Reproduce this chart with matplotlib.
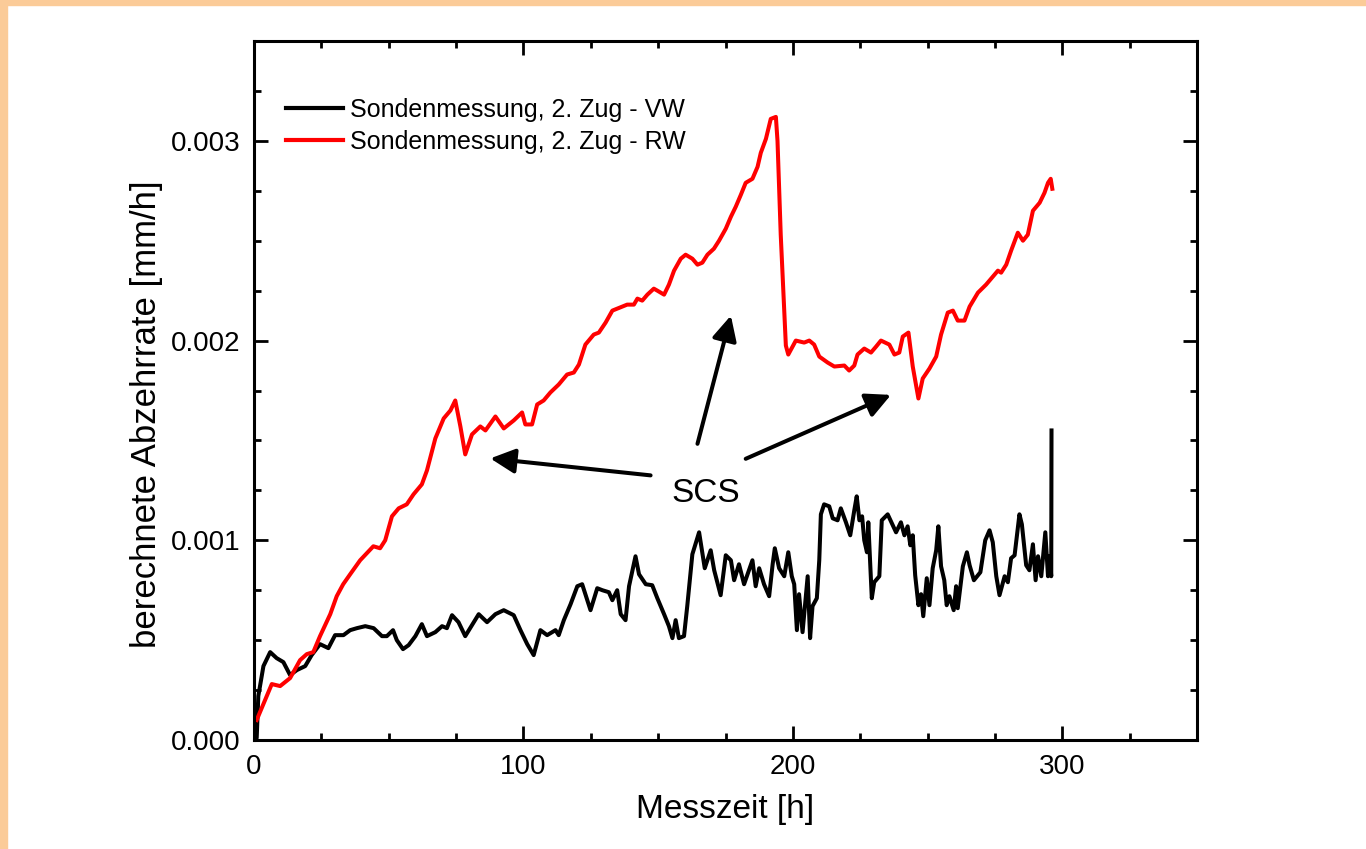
import matplotlib
matplotlib.use("Agg")
import matplotlib.pyplot as plt
from matplotlib.patches import Rectangle
from matplotlib.ticker import MultipleLocator, FormatStrFormatter

plt.rcParams['font.family'] = ['Liberation Sans', 'DejaVu Sans']

# ---- data: (Messzeit [h], Abzehrrate [mm/h]) ----
rw_points = [
    (1.0, 0.00010), (4.1, 0.00020), (6.6, 0.00028), (9.7, 0.00027), (13.4, 0.00031),
    (17.1, 0.00040), (19.6, 0.00043), (22.0, 0.00044), (24.5, 0.00052), (28.3, 0.00063),
    (30.7, 0.00072), (33.1, 0.00078), (35.7, 0.00083), (39.4, 0.00090), (44.3, 0.00097),
    (46.8, 0.00096), (48.7, 0.00100), (51.2, 0.00112), (53.7, 0.00116), (56.7, 0.00118),
    (59.2, 0.00123), (62.3, 0.00128), (64.2, 0.00135), (67.3, 0.00151), (70.4, 0.00161),
    (72.9, 0.00165), (74.7, 0.00170), (76.6, 0.00157), (78.4, 0.00143), (80.9, 0.00153),
    (84.0, 0.00157), (85.9, 0.00155), (89.6, 0.00162), (92.7, 0.00156), (96.4, 0.00160),
    (99.5, 0.00164), (100.7, 0.00158), (103.2, 0.00158), (105.1, 0.00168), (107.5, 0.00170),
    (110.0, 0.00174), (113.1, 0.00178), (116.2, 0.00183), (118.7, 0.00184), (120.6, 0.00188),
    (123.0, 0.00198), (126.1, 0.00203), (128.0, 0.00204), (130.5, 0.00209), (133.0, 0.00215),
    (134.8, 0.00216), (138.5, 0.00218), (141.0, 0.00218), (142.3, 0.00221), (144.1, 0.00220),
    (146.0, 0.00223), (148.4, 0.00226), (149.7, 0.00225), (152.2, 0.00223), (154.0, 0.00228),
    (155.9, 0.00235), (158.4, 0.00241), (160.2, 0.00243), (162.7, 0.00241), (164.6, 0.00238),
    (166.4, 0.00239), (168.3, 0.00243), (170.7, 0.00246), (172.6, 0.00250), (175.1, 0.00256),
    (177.0, 0.00262), (178.8, 0.00267), (180.7, 0.00273), (182.5, 0.00279), (185.0, 0.00281),
    (186.9, 0.00287), (188.1, 0.00294), (190.0, 0.00301), (191.8, 0.00311), (193.7, 0.00312),
    (194.3, 0.00300), (195.5, 0.00253), (197.4, 0.001975), (198.3, 0.00193), (201.1, 0.00200),
    (204.2, 0.00199), (206.1, 0.00200), (207.9, 0.00198), (209.8, 0.00192), (212.9, 0.00189),
    (215.4, 0.00187), (219.1, 0.001875), (220.9, 0.00185), (222.8, 0.001875), (224.0, 0.00193),
    (226.5, 0.00196), (229.0, 0.00194), (230.9, 0.00197), (232.7, 0.00200), (235.8, 0.00198),
    (237.7, 0.00193), (239.5, 0.00194), (240.8, 0.00202), (242.9, 0.00204), (244.5, 0.00187),
    (246.6, 0.00171), (248.2, 0.00181), (250.7, 0.00186), (253.2, 0.00192), (255.0, 0.00203),
    (257.5, 0.00214), (259.4, 0.00215), (261.2, 0.00210), (263.7, 0.00210), (265.6, 0.00217),
    (268.7, 0.00224), (271.7, 0.00228), (273.6, 0.00231), (276.1, 0.00235), (277.3, 0.00234),
    (279.2, 0.00238), (281.0, 0.00245), (283.5, 0.00254), (285.4, 0.00250), (287.2, 0.00253),
    (289.1, 0.00265), (291.6, 0.00269), (293.4, 0.00274), (294.7, 0.00279), (295.7, 0.00281),
    (296.3, 0.00276),
]

vw_points = [
    (0.5, 0.0), (1.0, 0.00001), (1.6, 0.00022), (3.5, 0.00037), (6.0, 0.00044), (8.4, 0.00041),
    (10.9, 0.00039), (13.4, 0.000325), (15.9, 0.00035), (19.0, 0.00037), (21.4, 0.000425),
    (24.5, 0.00048), (27.6, 0.00046), (30.1, 0.000525), (33.2, 0.000525), (35.7, 0.00055),
    (38.2, 0.00056), (41.3, 0.00057), (44.4, 0.00056), (47.5, 0.00052), (49.3, 0.00052),
    (51.6, 0.00055), (53.0, 0.0005), (55.3, 0.000455), (57.4, 0.000475), (59.9, 0.00052),
    (62.3, 0.00058), (64.2, 0.00052), (67.3, 0.00054), (69.8, 0.00057), (71.6, 0.00056),
    (73.5, 0.000625), (75.9, 0.00059), (78.4, 0.00052), (80.9, 0.000575), (83.4, 0.00063),
    (86.5, 0.00059), (89.6, 0.00063), (92.7, 0.00065), (96.4, 0.000625), (98.9, 0.00055),
    (101.4, 0.00048), (103.8, 0.000425), (106.3, 0.00055), (108.8, 0.000525), (111.9, 0.00055),
    (113.1, 0.000525), (115.0, 0.0006), (117.5, 0.00068), (120.0, 0.00077), (121.8, 0.00078),
    (123.0, 0.00073), (124.9, 0.00065), (127.4, 0.00076), (129.3, 0.00075), (131.7, 0.00074),
    (133.0, 0.0007), (134.8, 0.00075), (136.1, 0.00063), (137.9, 0.0006), (139.2, 0.00077),
    (141.6, 0.00092), (142.9, 0.00083), (145.4, 0.00078), (147.8, 0.000775), (149.7, 0.00071),
    (152.2, 0.00063), (154.0, 0.00057), (155.3, 0.00051), (156.5, 0.0006), (157.7, 0.00051),
    (159.6, 0.00052), (160.8, 0.00067), (162.7, 0.00093), (165.2, 0.00104), (167.3, 0.00086),
    (169.5, 0.00095), (170.8, 0.00085), (173.2, 0.000725), (175.1, 0.000925), (177.0, 0.0009),
    (178.2, 0.0008), (180.0, 0.00088), (181.9, 0.00078), (185.0, 0.0009), (186.2, 0.00077),
    (187.5, 0.00086), (189.3, 0.00078), (191.2, 0.00072), (192.5, 0.00088), (193.3, 0.00096),
    (194.9, 0.00086), (196.8, 0.00082), (198.3, 0.00094), (199.6, 0.00082), (200.5, 0.00078),
    (201.5, 0.00055), (202.3, 0.00073), (203.6, 0.00054), (205.5, 0.00082), (206.4, 0.00051),
    (207.3, 0.00067), (208.9, 0.00071), (209.8, 0.0009), (210.4, 0.00113), (211.6, 0.00118),
    (213.5, 0.00117), (214.8, 0.00111), (216.6, 0.0011), (217.8, 0.00116), (219.7, 0.00109),
    (221.3, 0.001025), (222.8, 0.00115), (223.7, 0.00122), (224.7, 0.0011), (225.7, 0.00112),
    (226.5, 0.001), (227.5, 0.00094), (228.0, 0.00109), (229.3, 0.00071), (230.2, 0.00079),
    (232.1, 0.00082), (233.0, 0.0011), (235.2, 0.00113), (238.3, 0.00104), (240.1, 0.00109),
    (241.4, 0.001025), (242.6, 0.00107), (243.6, 0.000975), (244.5, 0.001025), (245.4, 0.000825),
    (246.6, 0.000675), (247.6, 0.00073), (248.4, 0.00062), (249.7, 0.00081), (250.7, 0.000675),
    (251.9, 0.00086), (253.2, 0.00095), (254.0, 0.00107), (255.0, 0.00087), (256.2, 0.0008),
    (257.1, 0.000675), (258.1, 0.00072), (259.7, 0.00065), (260.6, 0.00077), (261.2, 0.00066),
    (263.1, 0.00087), (264.6, 0.00094), (265.6, 0.000875), (267.2, 0.0008), (269.6, 0.00084),
    (271.4, 0.001), (273.0, 0.00105), (274.2, 0.00099), (275.5, 0.00082), (276.7, 0.000725),
    (278.6, 0.00082), (279.8, 0.00079), (281.0, 0.00091), (282.3, 0.000925), (284.1, 0.00113),
    (285.0, 0.00108), (286.6, 0.000875), (287.8, 0.00085), (289.1, 0.00098), (290.1, 0.0008),
    (291.0, 0.00092), (292.2, 0.00082), (293.7, 0.00104), (294.7, 0.00082), (295.3, 0.00092),
    (295.9, 0.00082), (296.0, 0.00155),
]

rw_t = [p[0] for p in rw_points]
rw_v = [p[1] for p in rw_points]
vw_t = [p[0] for p in vw_points]
vw_v = [p[1] for p in vw_points]

label_vw = "Sondenmessung, 2. Zug - VW"
label_rw = "Sondenmessung, 2. Zug - RW"
annot_text = "SCS"
annot_xy = (167.7, 0.001235)
arrow_tails = [(147.2, 0.001325), (164.6, 0.001483), (182.5, 0.001408)]
arrow_tips = [(87.7, 0.00141), (177.0, 0.002125), (236.4, 0.001728)]

x_ticks = [0, 100, 200, 300]
y_ticks = [0.000, 0.001, 0.002, 0.003]

# ---- figure ----
W, H = 1366, 849
fig = plt.figure(figsize=(W / 100, H / 100), dpi=100)
fig.patch.set_facecolor('white')
orange = '#FBCB98'
fig.patches.append(Rectangle((0, 1 - 5 / H), 1, 5 / H, transform=fig.transFigure,
                             color=orange, zorder=-10))
fig.patches.append(Rectangle((0, 0), 7 / W, 1, transform=fig.transFigure,
                             color=orange, zorder=-10))

ax = fig.add_axes([254 / W, (H - 740) / H, (1197 - 254) / W, (740 - 41) / H])

ax.plot(vw_t, vw_v, color='black', lw=2.9, label=label_vw, solid_joinstyle='round')
ax.plot(rw_t, rw_v, color='#FF0000', lw=2.9, label=label_rw, solid_joinstyle='round')

ax.set_xlim(0, 350)
ax.set_ylim(0, 0.0035)
ax.set_xticks(x_ticks)
ax.set_yticks(y_ticks)
ax.xaxis.set_minor_locator(MultipleLocator(25))
ax.yaxis.set_minor_locator(MultipleLocator(0.00025))
ax.yaxis.set_major_formatter(FormatStrFormatter('%.3f'))

ax.tick_params(which='both', direction='in', top=True, right=True, width=2.0,
               labelsize=20, pad=10)
ax.tick_params(which='major', length=10)
ax.tick_params(which='minor', length=5)
for s in ax.spines.values():
    s.set_linewidth(2.2)

ax.set_xlabel("Messzeit [h]", fontsize=24, labelpad=10)
ax.set_ylabel("berechnete Abzehrrate [mm/h]", fontsize=25)
ax.yaxis.set_label_coords(-0.097, (740 - 414) / 699)

leg = ax.legend(loc='upper left', bbox_to_anchor=(0.0335, 0.919), frameon=False,
                fontsize=18, handlelength=2.3, handletextpad=0.28, labelspacing=0.32,
                borderpad=0.0, borderaxespad=0.0)
for l in leg.get_lines():
    l.set_linewidth(3.0)

ax.text(annot_xy[0], annot_xy[1], annot_text, fontsize=24, ha='center', va='center')
for tail, tip in zip(arrow_tails, arrow_tips):
    ax.annotate('', xy=tip, xytext=tail,
                arrowprops=dict(arrowstyle='-|>,head_length=1.5,head_width=0.75',
                                color='black', lw=2.9, shrinkA=0, shrinkB=0))

fig.savefig('out.png', dpi=100)
